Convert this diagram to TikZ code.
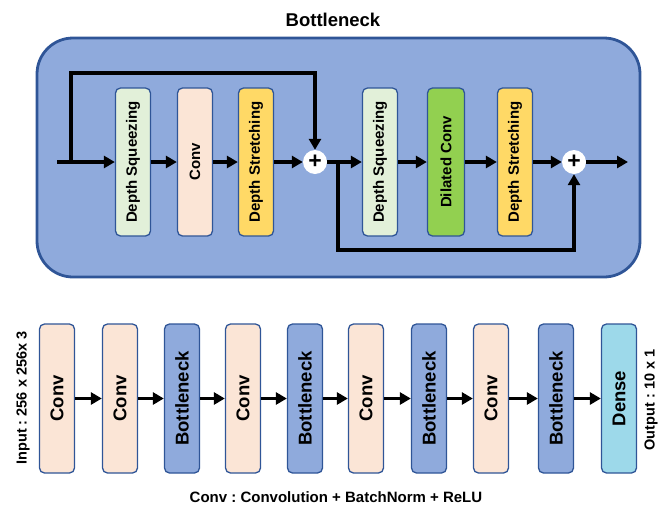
\documentclass[tikz,border=0pt]{standalone}
\usepackage{fontspec}
\setmainfont{Liberation Sans}
\usetikzlibrary{arrows.meta}
\definecolor{edge}{HTML}{2F5597}
\definecolor{bneck}{HTML}{8FAADC}
\definecolor{squeeze}{HTML}{E2F0D9}
\definecolor{convc}{HTML}{FBE5D6}
\definecolor{stretch}{HTML}{FFD966}
\definecolor{dilated}{HTML}{92D050}
\definecolor{densec}{HTML}{9DD9EA}
\frenchspacing
\begin{document}
\begin{tikzpicture}[x=1pt,y=-1pt,
    blk/.style={draw=edge,line width=1.3pt,rounded corners=5pt,rotate=90,
        minimum width=148pt,minimum height=35pt,inner sep=1pt,
        font=\bfseries\fontsize{15}{15}\selectfont},
    lblk/.style={blk,minimum width=149pt,font=\bfseries\fontsize{18.5}{18.5}\selectfont},
    add/.style={circle,fill=white,minimum size=24pt,inner sep=0pt,
        font=\bfseries\fontsize{23}{23}\selectfont},
    arr/.style={line width=3.4pt,-{Triangle[length=11pt,width=12pt]}},
    lbl/.style={font=\bfseries\fontsize{14.5}{14.5}\selectfont}]
    \useasboundingbox (0,0) rectangle (659,509);
    \draw[draw=edge,line width=2.8pt,fill=bneck,rounded corners=36pt] (37,38) rectangle (640,277);
    \node[font=\bfseries\fontsize{18.5}{18.5}\selectfont] (title) at (333,20) {Bottleneck};
    \node[blk,fill=squeeze] (ds1) at (133,162) {Depth Squeezing};
    \node[blk,fill=convc] (cv1) at (195,162) {Conv};
    \node[blk,fill=stretch] (st1) at (256,162) {Depth Stretching};
    \node[add] (plus1) at (315,162) {+};
    \node[blk,fill=squeeze] (ds2) at (380,162) {Depth Squeezing};
    \node[blk,fill=dilated,minimum height=37pt] (dc2) at (446,162) {Dilated Conv};
    \node[blk,fill=stretch] (st2) at (515,162) {Depth Stretching};
    \node[add] (plus2) at (574,162) {+};
    \coordinate (in) at (57,162);
    \coordinate (br1) at (71,162);
    \coordinate (br2) at (338,162);
    \coordinate (out) at (628,162);
    \draw[arr] (in) -- (ds1);
    \draw[arr] (ds1) -- (cv1);
    \draw[arr] (cv1) -- (st1);
    \draw[arr] (st1) -- (plus1);
    \draw[arr] (br1) -- ++(0,-89) -| (plus1);
    \draw[arr] (plus1) -- (ds2);
    \draw[arr] (ds2) -- (dc2);
    \draw[arr] (dc2) -- (st2);
    \draw[arr] (st2) -- (plus2);
    \draw[arr] (br2) -- ++(0,88) -| (plus2);
    \draw[arr] (plus2) -- (out);
    \foreach \x/\col/\txt [count=\i] in {57/convc/Conv,120/convc/Conv,182/bneck/Bottleneck,
        243/convc/Conv,305/bneck/Bottleneck,366/convc/Conv,429/bneck/Bottleneck,
        491/convc/Conv,556/bneck/Bottleneck,619/densec/Dense}
        \node[lblk,fill=\col] (b\i) at (\x,398.5) {\txt};
    \foreach \i [evaluate=\i as \j using int(\i+1)] in {1,...,9}
        \draw[arr] (b\i) -- (b\j);
    \node[lbl,rotate=90] (inp) at (23,398) {Input : 256 x 256x 3};
    \node[lbl,rotate=90] (outp) at (651,400) {Output : 10 x 1};
    \node[font=\bfseries\fontsize{15}{15}\selectfont] (note) at (336,497) {Conv : Convolution + BatchNorm + ReLU};
\end{tikzpicture}
\end{document}
